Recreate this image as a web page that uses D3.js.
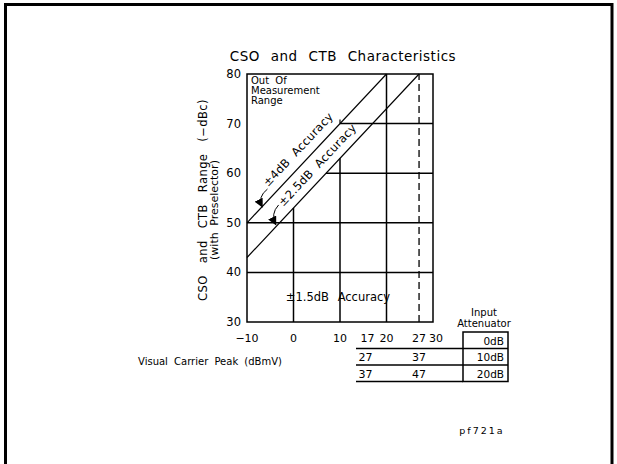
<!DOCTYPE html>
<html>
<head>
<meta charset="utf-8">
<script src="https://cdn.jsdelivr.net/npm/d3@7/dist/d3.min.js"></script>
<style>
  html, body { margin: 0; padding: 0; background: #fff; }
  svg { display: block; }
  text { font-family: "DejaVu Sans", sans-serif; fill: #000; }
</style>
</head>
<body>
<svg id="chart" width="617" height="464"></svg>
<script>
// Axis ticks (Visual Carrier Peak, dBmV with 0 dB attenuation; range in -dBc)
const xTicks = [-10, 0, 10, 17, 20, 27, 30];
const yTicks = [30, 40, 50, 60, 70, 80];

// Accuracy boundary lines: [x, y] endpoints in data units
const plus4Line = [[-10, 50], [20, 80]];
const plus25Line = [[-10, 43], [27, 80]];

// Grid segments inside the plot
const hGrid = [
  { y: 70, x0: 10, x1: 30 },
  { y: 60, x0: 7, x1: 30 },
  { y: 50, x0: -10, x1: 30 },
  { y: 40, x0: -10, x1: 30 }
];
const vGrid = [
  { x: 0, y0: 30, y1: 53 },
  { x: 10, y0: 30, y1: 63 },
  { x: 20, y0: 30, y1: 80 }
];
const dashedX = 27;

// Input attenuator table
const attenuators = ["0dB", "10dB", "20dB"];
const carrierColumns = [17, 27];
const carrierRows = [[27, 37], [37, 47]];

const svg = d3.select("#chart");

const x = d3.scaleLinear().domain([-10, 30]).range([247, 433]);
const y = d3.scaleLinear().domain([30, 80]).range([322, 74]);

// Page frame
svg.append("path")
  .attr("d", "M5.5,464 L5.5,4.5 L612,4.5 L612,464")
  .attr("fill", "none").attr("stroke", "#000").attr("stroke-width", 3);

// Title
svg.append("text")
  .attr("x", 343).attr("y", 61)
  .attr("text-anchor", "middle")
  .attr("font-size", 13.5)
  .attr("letter-spacing", 0.5)
  .attr("word-spacing", 6)
  .text("CSO and CTB Characteristics");

const g = svg.append("g");
const line = d3.line().x(d => x(d[0])).y(d => y(d[1]));

// Plot frame
g.append("rect")
  .attr("x", x(-10)).attr("y", y(80))
  .attr("width", x(30) - x(-10)).attr("height", y(30) - y(80))
  .attr("fill", "none").attr("stroke", "#000").attr("stroke-width", 1.5);

g.selectAll(".hg").data(hGrid).join("line")
  .attr("x1", d => x(d.x0)).attr("x2", d => x(d.x1))
  .attr("y1", d => y(d.y)).attr("y2", d => y(d.y))
  .attr("stroke", "#000").attr("stroke-width", 1.5);

g.selectAll(".vg").data(vGrid).join("line")
  .attr("x1", d => x(d.x)).attr("x2", d => x(d.x))
  .attr("y1", d => y(d.y0)).attr("y2", d => y(d.y1))
  .attr("stroke", "#000").attr("stroke-width", 1.5);

g.append("line")
  .attr("x1", x(dashedX)).attr("x2", x(dashedX))
  .attr("y1", y(30)).attr("y2", y(80))
  .attr("stroke", "#000").attr("stroke-width", 1.3)
  .attr("stroke-dasharray", "7,4");

[plus4Line, plus25Line].forEach(l => {
  g.append("path").attr("d", line(l))
    .attr("fill", "none").attr("stroke", "#000").attr("stroke-width", 1.2);
});

// small tick where the 70 line meets the +4dB boundary
g.append("line")
  .attr("x1", x(10)).attr("x2", x(10))
  .attr("y1", y(70)).attr("y2", y(70) - 4)
  .attr("stroke", "#000").attr("stroke-width", 1.2);

// Y tick labels
g.selectAll(".yl").data(yTicks).join("text")
  .attr("x", x(-10) - 6).attr("y", d => y(d) + 4)
  .attr("text-anchor", "end").attr("font-size", 11.5)
  .text(d => d);

// X tick labels
const xOffset = { 17: -5, 30: 3 };
g.selectAll(".xl").data(xTicks).join("text")
  .attr("x", d => x(d) + (xOffset[d] || 0)).attr("y", 342)
  .attr("text-anchor", "middle").attr("font-size", 11)
  .text(d => d < 0 ? "\u2212" + Math.abs(d) : d);

// Y axis title (two lines)
svg.append("text")
  .attr("transform", "translate(207,200) rotate(-90)")
  .attr("text-anchor", "middle").attr("font-size", 11.5)
  .attr("letter-spacing", 0.4)
  .attr("word-spacing", 8)
  .text("CSO and CTB Range (\u2212dBc)");
svg.append("text")
  .attr("transform", "translate(218,210) rotate(-90)")
  .attr("text-anchor", "middle").attr("font-size", 11)
  .attr("word-spacing", 3)
  .text("(with Preselector)");

// Region labels
const outLabel = ["Out Of", "Measurement", "Range"];
g.selectAll(".ol").data(outLabel).join("text")
  .attr("x", x(-10) + 4).attr("y", (d, i) => y(80) + 10 + i * 10)
  .attr("font-size", 10).attr("word-spacing", 3)
  .text(d => d);

g.append("text")
  .attr("x", 338).attr("y", y(35) + 4)
  .attr("text-anchor", "middle").attr("font-size", 11.5)
  .attr("word-spacing", 5)
  .text("\u00b11.5dB Accuracy");

// Slanted accuracy labels along the boundary lines
const angle = Math.atan2(y(80) - y(50), x(20) - x(-10)) * 180 / Math.PI;
function slantLabel(pt, lift, text) {
  g.append("text")
    .attr("transform", `translate(${x(pt[0])},${y(pt[1])}) rotate(${angle}) translate(0,${-lift})`)
    .attr("text-anchor", "middle").attr("font-size", 11.5)
    .attr("letter-spacing", 0.3)
    .attr("word-spacing", 4)
    .text(text);
}
slantLabel([3.0, 63.0], 9, "\u00b14dB Accuracy");
slantLabel([7.0, 60.0], 8, "\u00b12.5dB Accuracy");

// Curved pointers from labels to boundary lines
svg.append("defs").append("marker")
  .attr("id", "head").attr("viewBox", "0 0 10 10")
  .attr("refX", 9).attr("refY", 5)
  .attr("markerWidth", 9).attr("markerHeight", 9)
  .attr("markerUnits", "userSpaceOnUse")
  .attr("orient", "auto")
  .append("path").attr("d", "M0,0 L10,5 L0,10 Z").attr("fill", "#000");

const pointers = [
  { from: [-5.6, 56.8], ctrl: [-7.8, 55.2], to: [-6.7, 53.2] },
  { from: [-3.2, 53.6], ctrl: [-5.0, 51.8], to: [-3.8, 49.6] }
];
g.selectAll(".ptr").data(pointers).join("path")
  .attr("d", d => `M${x(d.from[0])},${y(d.from[1])} Q${x(d.ctrl[0])},${y(d.ctrl[1])} ${x(d.to[0])},${y(d.to[1])}`)
  .attr("fill", "none").attr("stroke", "#000").attr("stroke-width", 1)
  .attr("marker-end", "url(#head)");

// Visual carrier peak label
svg.append("text")
  .attr("x", 210).attr("y", 365)
  .attr("text-anchor", "middle").attr("font-size", 10)
  .attr("word-spacing", 3)
  .text("Visual Carrier Peak (dBmV)");

// Input attenuator column
svg.append("text").attr("x", 484).attr("y", 316)
  .attr("text-anchor", "middle").attr("font-size", 10).text("Input");
svg.append("text").attr("x", 484).attr("y", 327)
  .attr("text-anchor", "middle").attr("font-size", 10).text("Attenuator");

const rowTop = 332, rowH = 16.5, boxL = 463, boxR = 508, rowL = 356;
svg.append("rect")
  .attr("x", boxL).attr("y", rowTop)
  .attr("width", boxR - boxL).attr("height", rowH * attenuators.length)
  .attr("fill", "none").attr("stroke", "#000").attr("stroke-width", 1.5);

attenuators.forEach((a, i) => {
  if (i > 0) {
    svg.append("line")
      .attr("x1", rowL).attr("x2", boxR)
      .attr("y1", rowTop + i * rowH).attr("y2", rowTop + i * rowH)
      .attr("stroke", "#000").attr("stroke-width", 1.3);
  }
  svg.append("text")
    .attr("x", boxR - 4).attr("y", rowTop + i * rowH + 12.5)
    .attr("text-anchor", "end").attr("font-size", 10.5)
    .text(a);
});
svg.append("line")
  .attr("x1", rowL).attr("x2", boxL)
  .attr("y1", rowTop + 3 * rowH).attr("y2", rowTop + 3 * rowH)
  .attr("stroke", "#000").attr("stroke-width", 1.3);

carrierRows.forEach((row, i) => {
  row.forEach((v, j) => {
    svg.append("text")
      .attr("x", x(carrierColumns[j]) + (j === 0 ? -7 : 0))
      .attr("y", rowTop + (i + 1) * rowH + 12.5)
      .attr("text-anchor", "middle").attr("font-size", 11)
      .text(v);
  });
});

// Figure id
svg.append("text")
  .attr("x", 482).attr("y", 434)
  .attr("text-anchor", "middle").attr("font-size", 9.5)
  .attr("letter-spacing", 2)
  .text("pf721a");
</script>
</body>
</html>
